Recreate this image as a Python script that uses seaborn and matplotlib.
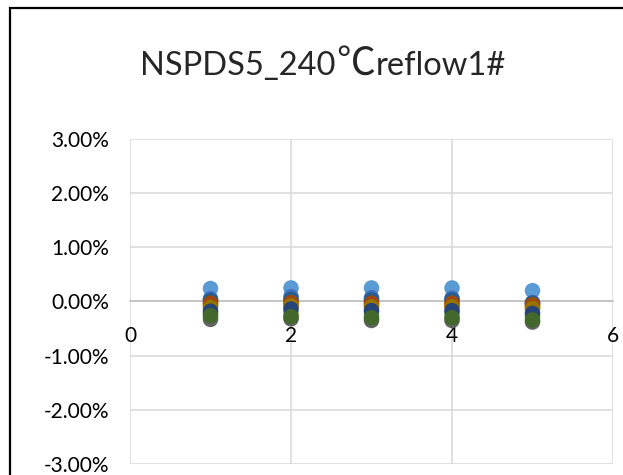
import numpy as np
import pandas as pd
import matplotlib
matplotlib.use("Agg")
import matplotlib.pyplot as plt
import seaborn as sns
from matplotlib.patches import Rectangle

# 데이터 (단위: %)
x_vals = [1, 2, 3, 4, 5]
s1 = [0.24, 0.25, 0.25, 0.25, 0.20]
s2 = [0.00, 0.00, 0.00, 0.00, -0.04]
s3 = [-0.07, -0.06, -0.07, -0.07, -0.10]
s4 = [-0.06, -0.05, -0.06, -0.06, -0.09]
s5 = [0.05, 0.09, 0.07, 0.06, -0.02]
s6 = [-0.22, -0.22, -0.24, -0.23, -0.28]
s7 = [0.02, 0.04, 0.03, 0.03, -0.03]
s8 = [-0.03, -0.02, -0.03, -0.03, -0.06]
s9 = [-0.33, -0.32, -0.35, -0.35, -0.38]
s10 = [-0.11, -0.08, -0.10, -0.10, -0.13]
s11 = [-0.18, -0.14, -0.17, -0.17, -0.22]
s12 = [-0.26, -0.28, -0.30, -0.30, -0.34]
series = [s1, s2, s3, s4, s5, s6, s7, s8, s9, s10, s11, s12]
colors = ["#5B9BD5", "#ED7D31", "#A5A5A5", "#FFC000", "#4472C4", "#70AD47",
          "#255E91", "#9E480E", "#636363", "#997300", "#264478", "#43682B"]
x_ticks = [0, 2, 4, 6]
y_ticks = [-3, -2, -1, 0, 1, 2, 3]
# 제목은 세 조각 (℃ 는 CJK 폰트로 크게)
title_parts = ["NSPDS5_240", "℃", "reflow1#"]

rows = []
for i, s in enumerate(series):
    for xv, yv in zip(x_vals, s):
        rows.append({"x": xv, "y": yv, "series": f"S{i+1}"})
df = pd.DataFrame(rows)

sns.set_style("white")
plt.rcParams["font.family"] = ["Lato", "Noto Sans CJK SC", "DejaVu Sans"]

fig = plt.figure(figsize=(6.23, 4.75), dpi=100)
ax = fig.add_axes([130 / 623, 1 - 464 / 475, 483 / 623, 325 / 475])

sns.scatterplot(data=df, x="x", y="y", hue="series", palette=colors,
                s=125, edgecolor="none", linewidth=0, legend=False, ax=ax,
                zorder=3)

ax.set_xlim(0, 6)
ax.set_ylim(-3, 3)
ax.set_xticks(x_ticks)
ax.set_yticks(y_ticks)
ax.set_yticklabels([f"{v:.2f}%" for v in y_ticks])
ax.set_xticklabels([str(v) for v in x_ticks])
ax.grid(True, color="#D9D9D9", linewidth=1.1, zorder=0)
ax.set_axisbelow(True)
for sp in ["left", "right", "top"]:
    ax.spines[sp].set_visible(False)
ax.spines["bottom"].set_position(("data", 0))
ax.spines["bottom"].set_color("#BFBFBF")
ax.spines["bottom"].set_linewidth(1.1)
ax.tick_params(axis="both", length=0, labelsize=15, colors="#000000")
ax.tick_params(axis="x", pad=18)
ax.tick_params(axis="y", pad=15)
ax.set_xlabel("")
ax.set_ylabel("")
for lab in ax.get_xticklabels() + ax.get_yticklabels():
    lab.set_clip_on(False)

# 제목
fig.canvas.draw()
renderer = fig.canvas.get_renderer()
x_px = 140
base_y = 1 - 75 / 475
fams = [["Lato", "Noto Sans CJK SC"], ["Noto Sans CJK SC", "DejaVu Sans"],
        ["Lato", "Noto Sans CJK SC"]]
sizes = [23.5, 28, 23.5]
gaps = [1, 0, 0]
for part, fam, fs, g in zip(title_parts, fams, sizes, gaps):
    t = fig.text(x_px / 623, base_y, part, ha="left", va="baseline",
                 fontsize=fs, family=fam)
    x_px += t.get_window_extent(renderer).width + g

# 차트 테두리
fig.patches.append(Rectangle((10 / 623, -0.1), 1.2, 1 - 8 / 475 + 0.1,
                             transform=fig.transFigure, fill=False,
                             edgecolor="black", linewidth=1.6))

fig.savefig("out.png", dpi=100)
